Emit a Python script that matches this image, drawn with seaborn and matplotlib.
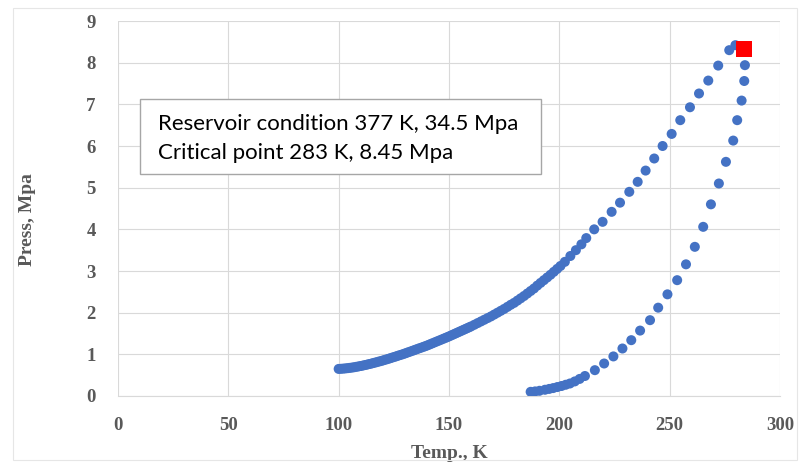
import matplotlib
matplotlib.use("Agg")
import matplotlib.pyplot as plt
import seaborn as sns
import pandas as pd
from matplotlib.patches import Rectangle

# Bubble-point curve (Temp K, Press MPa)
bubble_T = [100, 101, 102, 103, 104, 105, 106, 107, 108, 109, 110, 111, 112, 113, 114,
            115, 116, 117, 118, 119, 120, 121, 122, 123, 124, 125, 126, 127, 128, 129,
            130, 131, 132, 133, 134, 135, 136, 137, 138, 139, 140, 141, 142, 143, 144,
            145, 146, 147, 148, 149, 150, 151, 152, 153, 154, 155, 156, 157, 158, 159,
            160, 161.5, 163, 164.5, 166, 167.5, 169, 170.5, 172, 173.5, 175, 176.5, 178,
            179.5, 181, 182.5, 184, 185.5, 187, 188.5, 190, 191.5, 193, 194.5, 196, 197.5,
            199, 200.5, 202.5, 205, 207.5, 210, 212.2, 215.8, 219.6, 223.7, 227.5, 231.7,
            235.5, 239.1, 243.0, 246.8, 250.9, 254.8, 259.2, 263.3, 267.5, 272.0, 277.0,
            279.8]
bubble_P = [0.650, 0.653, 0.657, 0.662, 0.668, 0.675, 0.682, 0.690, 0.700, 0.710, 0.720,
            0.731, 0.743, 0.755, 0.768, 0.781, 0.795, 0.809, 0.823, 0.837, 0.852, 0.868,
            0.884, 0.900, 0.917, 0.934, 0.951, 0.968, 0.985, 1.002, 1.020, 1.039, 1.058,
            1.077, 1.096, 1.115, 1.134, 1.153, 1.172, 1.191, 1.210, 1.232, 1.254, 1.276,
            1.298, 1.320, 1.342, 1.364, 1.386, 1.408, 1.430, 1.454, 1.478, 1.502, 1.526,
            1.550, 1.574, 1.598, 1.622, 1.646, 1.670, 1.710, 1.750, 1.790, 1.830, 1.870,
            1.910, 1.955, 2.000, 2.045, 2.090, 2.140, 2.190, 2.235, 2.290, 2.345, 2.400,
            2.460, 2.520, 2.580, 2.650, 2.715, 2.780, 2.845, 2.910, 2.980, 3.050, 3.120,
            3.220, 3.360, 3.500, 3.640, 3.790, 4.00, 4.18, 4.42, 4.64, 4.90, 5.14, 5.41,
            5.70, 6.00, 6.29, 6.62, 6.93, 7.26, 7.57, 7.93, 8.30, 8.42]

# Dew-point curve
dew_T = [187.0, 189.0, 191.0, 193.5, 195.4, 197.2, 199.1, 201.0, 202.9, 204.8, 207.0,
         209.2, 211.6, 216.1, 220.3, 224.5, 228.6, 232.6, 236.6, 241.1, 244.8, 249.0,
         253.4, 257.4, 261.4, 265.2, 268.7, 272.3, 275.5, 278.8, 280.6, 282.6, 283.8,
         284.1, 284.3]
dew_P = [0.10, 0.11, 0.125, 0.15, 0.17, 0.19, 0.215, 0.24, 0.27, 0.30, 0.35, 0.41, 0.48,
         0.62, 0.78, 0.95, 1.14, 1.34, 1.57, 1.82, 2.12, 2.44, 2.78, 3.16, 3.58, 4.06,
         4.60, 5.10, 5.62, 6.13, 6.62, 7.09, 7.56, 7.94, 8.30]

# Critical point marker
crit_T = [283.7]
crit_P = [8.32]

x_ticks = [0, 50, 100, 150, 200, 250, 300]
y_ticks = [0, 1, 2, 3, 4, 5, 6, 7, 8, 9]

sns.set_theme(style="white")

df = pd.DataFrame({
    "T": bubble_T + dew_T,
    "P": bubble_P + dew_P,
})
crit = pd.DataFrame({"T": crit_T, "P": crit_P})

fig = plt.figure(figsize=(8, 4.65), dpi=100)
ax = fig.add_axes([118 / 800, 1 - 396 / 465, (780 - 118) / 800, (396 - 21) / 465])

sns.scatterplot(data=df, x="T", y="P", ax=ax, color="#4472C4", s=52,
                edgecolor="none", zorder=3, legend=False)
sns.scatterplot(data=crit, x="T", y="P", ax=ax, color="#FF0000", marker="s", s=135,
                edgecolor="none", zorder=4, legend=False)

ax.set_xlim(0, 300)
ax.set_ylim(0, 9)
ax.set_xticks(x_ticks)
ax.set_yticks(y_ticks)
ax.grid(True, color="#d9d9d9", linewidth=0.8)
ax.set_axisbelow(True)
for side in ["top", "right", "left"]:
    ax.spines[side].set_visible(False)
ax.spines["bottom"].set_color("#d9d9d9")
ax.spines["bottom"].set_linewidth(0.8)

tick_font = dict(family="Liberation Serif", weight="bold", size=13.5)
ax.set_xticklabels([str(v) for v in x_ticks], fontdict=tick_font, color="#595959")
ax.set_yticklabels([str(v) for v in y_ticks], fontdict=tick_font, color="#595959")
ax.tick_params(axis="x", length=0, pad=15)
ax.tick_params(axis="y", length=0, pad=16)

ax.set_xlabel("Temp., K", family="Liberation Serif", weight="bold", size=14,
              color="#595959")
ax.set_ylabel("Press, Mpa", family="Liberation Serif", weight="bold", size=14,
              color="#595959")
ax.xaxis.set_label_coords(0.5, -0.152)
ax.yaxis.set_label_coords(-0.137, 0.47)
ax.xaxis.label.set_va("center")
ax.yaxis.label.set_va("center")

# Text box
fig.patches.append(Rectangle((140 / 800, 1 - 174 / 465), 401 / 800, 75 / 465,
                             transform=fig.transFigure, facecolor="white",
                             edgecolor="#a6a6a6", linewidth=1.0, zorder=5))
fig.text(158 / 800, 1 - 124 / 465, "Reservoir condition 377 K, 34.5 Mpa",
         family="Lato", size=16, color="black", va="center", ha="left", zorder=6)
fig.text(158 / 800, 1 - 153 / 465, "Critical point 283 K, 8.45 Mpa",
         family="Lato", size=16, color="black", va="center", ha="left", zorder=6)

# Outer chart border
fig.patches.append(Rectangle((13 / 800, 1 - 460 / 465), 784 / 800, 452 / 465,
                             transform=fig.transFigure, facecolor="none",
                             edgecolor="#e6e6e6", linewidth=0.8, zorder=0))

fig.savefig("out.png", dpi=100)
